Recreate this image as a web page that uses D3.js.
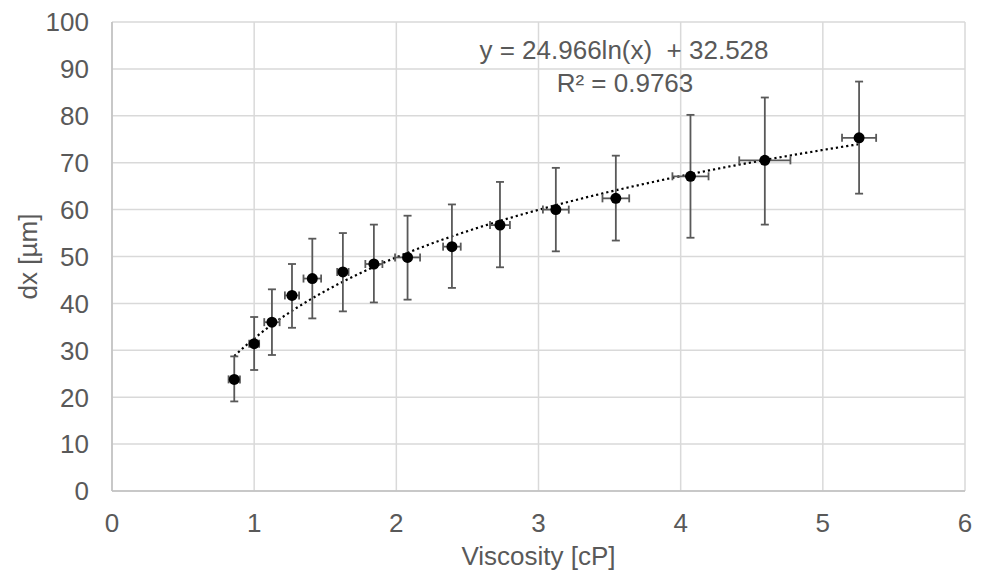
<!DOCTYPE html>
<html>
<head>
<meta charset="utf-8">
<script src="https://cdn.jsdelivr.net/npm/d3@7"></script>
<style>
  body { margin: 0; background: #fff; }
  text { font-family: "Liberation Sans", Arial, sans-serif; fill: #595959; white-space: pre; }
</style>
</head>
<body>
<div id="chart"></div>
<script>
const viscosity = [0.86, 1.00, 1.125, 1.266, 1.409, 1.624, 1.842, 2.079, 2.391, 2.729, 3.122, 3.544, 4.069, 4.592, 5.255];
const dx        = [23.8, 31.4, 36.0, 41.7, 45.3, 46.7, 48.4, 49.8, 52.1, 56.7, 60.0, 62.4, 67.1, 70.5, 75.3];
const dxUpper   = [28.7, 37.1, 43.0, 48.4, 53.8, 55.0, 56.8, 58.7, 61.1, 65.9, 68.9, 71.5, 80.2, 83.9, 87.3];
const dxLower   = [19.1, 25.8, 29.0, 34.8, 36.8, 38.3, 40.2, 40.8, 43.3, 47.7, 51.1, 53.4, 54.0, 56.8, 63.4];
const viscErr   = [0.04, 0.035, 0.054, 0.05, 0.062, 0.04, 0.06, 0.088, 0.062, 0.07, 0.091, 0.094, 0.127, 0.18, 0.12];

const xTicks = [0, 1, 2, 3, 4, 5, 6];
const yTicks = [0, 10, 20, 30, 40, 50, 60, 70, 80, 90, 100];

// Logarithmic trendline, as printed on the chart
const trendA = 24.966;
const trendB = 32.528;
const trendLabel = "y = 24.966ln(x)  + 32.528";
const r2Label = "R² = 0.9763";

const width = 984;
const height = 576;
const margin = { top: 22, right: 19, bottom: 85, left: 112 };
const fontSize = "26px";

const svg = d3.select("#chart").append("svg")
  .attr("width", width)
  .attr("height", height);

const x = d3.scaleLinear().domain([0, 6]).range([margin.left, width - margin.right]);
const y = d3.scaleLinear().domain([0, 100]).range([height - margin.bottom, margin.top]);

// grid
svg.append("g")
  .selectAll("line")
  .data(yTicks)
  .join("line")
  .attr("x1", x(0)).attr("x2", x(6))
  .attr("y1", d => y(d)).attr("y2", d => y(d))
  .attr("stroke", "#d9d9d9").attr("stroke-width", 1.5);

svg.append("g")
  .selectAll("line")
  .data(xTicks)
  .join("line")
  .attr("x1", d => x(d)).attr("x2", d => x(d))
  .attr("y1", y(0)).attr("y2", y(100))
  .attr("stroke", "#d9d9d9").attr("stroke-width", 1.5);

// axis lines
svg.append("line")
  .attr("x1", x(0)).attr("x2", x(6)).attr("y1", y(0)).attr("y2", y(0))
  .attr("stroke", "#bfbfbf").attr("stroke-width", 1.5);
svg.append("line")
  .attr("x1", x(0)).attr("x2", x(0)).attr("y1", y(0)).attr("y2", y(100))
  .attr("stroke", "#bfbfbf").attr("stroke-width", 1.5);

// tick labels
svg.append("g")
  .selectAll("text")
  .data(yTicks)
  .join("text")
  .attr("x", 89)
  .attr("y", d => y(d))
  .attr("dy", "0.36em")
  .attr("text-anchor", "end")
  .attr("font-size", fontSize)
  .text(d => d);

svg.append("g")
  .selectAll("text")
  .data(xTicks)
  .join("text")
  .attr("x", d => x(d))
  .attr("y", 532)
  .attr("text-anchor", "middle")
  .attr("font-size", fontSize)
  .text(d => d);

// axis titles
svg.append("text")
  .attr("x", (x(0) + x(6)) / 2)
  .attr("y", 565)
  .attr("text-anchor", "middle")
  .attr("font-size", fontSize)
  .text("Viscosity [cP]");

svg.append("text")
  .attr("transform", `translate(37,${(y(0) + y(100)) / 2}) rotate(-90)`)
  .attr("text-anchor", "middle")
  .attr("font-size", fontSize)
  .text("dx [µm]");

// trendline
const trendXs = d3.range(0, 101).map(i => viscosity[0] + (viscosity[viscosity.length - 1] - viscosity[0]) * i / 100);
svg.append("path")
  .datum(trendXs)
  .attr("fill", "none")
  .attr("stroke", "#000")
  .attr("stroke-width", 2.2)
  .attr("stroke-dasharray", "2.2,3")
  .attr("d", d3.line().x(d => x(d)).y(d => y(trendA * Math.log(d) + trendB)));

const pts = viscosity.map((v, i) => ({ v, d: dx[i], hi: dxUpper[i], lo: dxLower[i], e: viscErr[i] }));
const errColor = "#595959";
const cap = 4;

// vertical error bars
const eb = svg.append("g").attr("stroke", errColor).attr("stroke-width", 1.8);
eb.selectAll("line.vb").data(pts).join("line").attr("class", "vb")
  .attr("x1", p => x(p.v)).attr("x2", p => x(p.v))
  .attr("y1", p => y(p.hi)).attr("y2", p => y(p.lo));
eb.selectAll("line.vt").data(pts).join("line").attr("class", "vt")
  .attr("x1", p => x(p.v) - cap).attr("x2", p => x(p.v) + cap)
  .attr("y1", p => y(p.hi)).attr("y2", p => y(p.hi));
eb.selectAll("line.vl").data(pts).join("line").attr("class", "vl")
  .attr("x1", p => x(p.v) - cap).attr("x2", p => x(p.v) + cap)
  .attr("y1", p => y(p.lo)).attr("y2", p => y(p.lo));

// horizontal error bars
eb.selectAll("line.hb").data(pts).join("line").attr("class", "hb")
  .attr("x1", p => x(p.v - p.e)).attr("x2", p => x(p.v + p.e))
  .attr("y1", p => y(p.d)).attr("y2", p => y(p.d));
eb.selectAll("line.hl").data(pts).join("line").attr("class", "hl")
  .attr("x1", p => x(p.v - p.e)).attr("x2", p => x(p.v - p.e))
  .attr("y1", p => y(p.d) - cap).attr("y2", p => y(p.d) + cap);
eb.selectAll("line.hr").data(pts).join("line").attr("class", "hr")
  .attr("x1", p => x(p.v + p.e)).attr("x2", p => x(p.v + p.e))
  .attr("y1", p => y(p.d) - cap).attr("y2", p => y(p.d) + cap);

// markers
svg.append("g")
  .selectAll("circle")
  .data(pts)
  .join("circle")
  .attr("cx", p => x(p.v))
  .attr("cy", p => y(p.d))
  .attr("r", 5.5)
  .attr("fill", "#000");

// trendline label
svg.append("text")
  .attr("x", 624).attr("y", 59)
  .attr("text-anchor", "middle")
  .attr("font-size", fontSize)
  .text(trendLabel);
svg.append("text")
  .attr("x", 625).attr("y", 92)
  .attr("text-anchor", "middle")
  .attr("font-size", fontSize)
  .text(r2Label);
</script>
</body>
</html>
